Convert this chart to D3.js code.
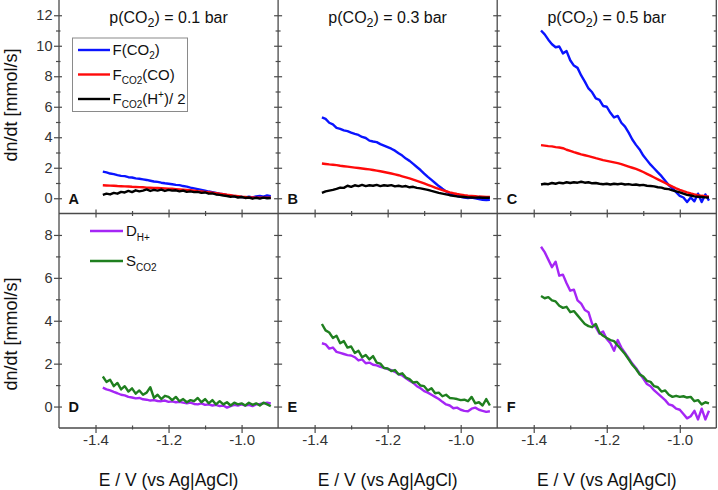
<!DOCTYPE html>
<html><head><meta charset="utf-8">
<script src="https://cdn.jsdelivr.net/npm/d3@7"></script>
<style>
body{margin:0;background:#fff}
svg{display:block}
text{font-family:"Liberation Sans",Arial,Helvetica,sans-serif}
</style>
</head><body>
<svg id="c" width="718" height="490"></svg>
<script>
// ---------------- DATA ----------------
const E = [-1.38,-1.37,-1.36,-1.35,-1.34,-1.33,-1.32,-1.31,-1.30,-1.29,
-1.28,-1.27,-1.26,-1.25,-1.24,-1.23,-1.22,-1.21,-1.20,-1.19,
-1.18,-1.17,-1.16,-1.15,-1.14,-1.13,-1.12,-1.11,-1.10,-1.09,
-1.08,-1.07,-1.06,-1.05,-1.04,-1.03,-1.02,-1.01,-1.00,-0.99,
-0.98,-0.97,-0.96,-0.95,-0.94,-0.93,-0.92];

const pressures = ["0.1", "0.3", "0.5"];
const panelLetters = [["A","B","C"],["D","E","F"]];
const xTicks = [-1.4, -1.2, -1.0];
const xMinorTicks = [-1.3, -1.1];
const xTickLabels = ["-1.4", "-1.2", "-1.0"];
const yTopTicks = [0, 2, 4, 6, 8, 10, 12];
const yTopMinor = [1, 3, 5, 7, 9, 11];
const yBotTicks = [0, 2, 4, 6, 8];
const yBotMinor = [1, 3, 5, 7];

// p = 0.1 bar
const F_CO2_01 = [1.75,1.70,1.62,1.58,1.52,1.47,1.45,1.38,1.36,1.30,
1.28,1.24,1.20,1.15,1.10,1.07,1.02,0.98,0.95,0.92,
0.88,0.86,0.80,0.76,0.70,0.65,0.60,0.55,0.50,0.44,
0.40,0.35,0.30,0.26,0.20,0.17,0.13,0.10,0.08,0.06,
0.10,0.05,0.12,0.15,0.10,0.18,0.14];
const F_CO_01 = [0.85,0.84,0.83,0.82,0.80,0.79,0.78,0.77,0.75,0.74,
0.73,0.72,0.70,0.69,0.68,0.67,0.66,0.65,0.63,0.62,
0.60,0.58,0.56,0.54,0.52,0.50,0.47,0.45,0.42,0.39,
0.36,0.33,0.30,0.27,0.23,0.20,0.16,0.13,0.10,0.08,
0.06,0.05,0.04,0.04,0.03,0.03,0.03];
const F_H_01 = [0.22,0.30,0.25,0.35,0.30,0.42,0.38,0.48,0.40,0.52,
0.45,0.50,0.58,0.48,0.55,0.50,0.57,0.48,0.55,0.50,
0.52,0.45,0.50,0.42,0.45,0.40,0.42,0.35,0.38,0.30,
0.32,0.25,0.22,0.18,0.15,0.10,0.12,0.05,0.08,0.02,
0.05,-0.03,0.03,-0.02,0.04,0.00,0.02];
const D_H_01 = [0.88,0.80,0.75,0.68,0.62,0.55,0.52,0.45,0.42,0.38,
0.40,0.34,0.32,0.28,0.30,0.26,0.25,0.28,0.22,0.24,
0.20,0.22,0.18,0.15,0.18,0.12,0.10,0.15,0.08,0.10,
0.05,0.08,0.02,0.05,-0.05,0.02,0.08,0.05,0.10,0.05,
0.08,0.02,0.10,0.12,0.15,0.18,0.15];
const S_CO2_01 = [1.40,1.15,1.25,0.95,1.10,0.80,0.95,0.70,0.85,0.60,
0.75,0.55,0.65,0.90,0.40,0.55,0.35,0.50,0.45,0.30,
0.45,0.25,0.35,0.20,0.30,0.25,0.40,0.20,0.35,0.15,
0.30,0.10,0.25,0.10,0.20,0.05,0.18,0.10,0.15,0.05,
0.18,0.08,0.15,0.05,0.18,0.10,0.02];

// p = 0.3 bar
const F_CO2_03 = [5.30,5.20,4.95,4.85,4.62,4.55,4.45,4.40,4.30,4.22,
4.15,4.02,3.95,3.78,3.72,3.68,3.55,3.45,3.35,3.25,
3.12,2.95,2.80,2.60,2.45,2.25,2.05,1.85,1.62,1.40,
1.20,1.00,0.80,0.62,0.45,0.32,0.22,0.15,0.10,0.05,
0.02,0.05,0.00,-0.05,-0.10,-0.12,-0.10];
const F_CO_03 = [2.28,2.25,2.22,2.20,2.17,2.13,2.10,2.07,2.04,2.01,
1.98,1.95,1.92,1.89,1.85,1.81,1.77,1.72,1.67,1.62,
1.57,1.51,1.44,1.37,1.30,1.22,1.14,1.06,0.97,0.88,
0.79,0.70,0.61,0.53,0.46,0.39,0.33,0.28,0.24,0.20,
0.17,0.15,0.13,0.11,0.10,0.09,0.08];
const F_H_03 = [0.35,0.45,0.50,0.55,0.62,0.70,0.68,0.82,0.75,0.85,
0.80,0.88,0.80,0.85,0.82,0.88,0.80,0.85,0.82,0.86,
0.78,0.82,0.76,0.80,0.72,0.75,0.68,0.65,0.60,0.55,
0.48,0.42,0.35,0.30,0.25,0.20,0.16,0.12,0.10,0.08,
0.06,0.05,0.04,0.05,0.03,0.04,0.03];
const D_H_03 = [2.95,2.90,2.70,2.75,2.55,2.50,2.45,2.40,2.38,2.30,
2.15,2.20,2.02,2.05,1.95,1.92,1.85,1.80,1.75,1.70,
1.62,1.50,1.45,1.32,1.20,1.10,0.95,0.85,0.72,0.65,
0.55,0.45,0.35,0.22,0.10,0.05,-0.08,-0.05,-0.15,-0.20,
-0.22,-0.10,-0.05,-0.15,-0.20,-0.25,-0.22];
const S_CO2_03 = [3.85,3.55,3.45,3.20,3.30,2.95,3.05,2.75,2.80,2.50,
2.60,2.30,2.40,2.20,2.35,2.05,2.00,1.80,1.78,1.65,
1.70,1.50,1.55,1.35,1.28,1.12,1.15,0.98,0.95,0.75,
0.85,0.62,0.65,0.48,0.55,0.40,0.38,0.35,0.30,0.32,
0.25,0.45,0.15,0.20,0.05,0.35,0.05];

// p = 0.5 bar
const F_CO2_05 = [11.00,10.75,10.40,10.10,9.90,9.95,9.50,9.65,9.05,8.70,
8.55,8.05,7.65,7.20,6.95,6.55,6.45,6.05,6.00,5.60,
5.30,5.40,4.95,4.70,4.30,3.85,3.50,3.20,2.80,2.50,
2.20,1.95,1.70,1.45,1.15,0.85,0.65,0.40,0.15,0.05,
-0.25,0.05,-0.20,0.30,-0.25,0.25,-0.15];
const F_CO_05 = [3.48,3.45,3.42,3.40,3.35,3.33,3.28,3.18,3.10,3.02,
2.95,2.88,2.82,2.76,2.70,2.63,2.57,2.50,2.45,2.40,
2.35,2.30,2.24,2.16,2.08,2.00,1.92,1.83,1.72,1.60,
1.48,1.36,1.24,1.12,1.00,0.88,0.76,0.65,0.55,0.46,
0.38,0.31,0.25,0.20,0.16,0.13,0.11];
const F_H_05 = [0.90,0.95,0.92,1.00,0.95,1.02,0.98,1.05,1.00,1.05,
1.02,1.08,1.02,1.05,0.98,1.00,0.95,0.92,0.95,0.90,
0.95,0.92,0.96,0.90,0.93,0.88,0.90,0.85,0.88,0.82,
0.80,0.78,0.72,0.70,0.62,0.60,0.52,0.45,0.38,0.30,
0.22,0.18,0.12,0.10,0.08,0.06,0.05];
const D_H_05 = [7.45,7.20,6.85,6.50,6.75,6.10,6.15,5.75,5.40,5.45,
4.95,4.80,4.50,4.40,3.85,3.70,3.40,3.50,3.15,2.95,
2.60,3.10,2.75,2.50,2.25,2.00,1.80,1.55,1.30,1.05,
0.95,0.75,0.60,0.45,0.30,0.10,0.05,-0.10,-0.15,-0.35,
-0.55,-0.45,-0.20,-0.60,-0.10,-0.60,-0.20];
const S_CO2_05 = [5.15,5.05,5.10,4.95,4.90,4.70,4.60,4.65,4.40,4.45,
4.25,4.05,3.85,3.75,3.70,3.85,3.45,3.30,3.20,3.10,
3.05,2.85,2.65,2.45,2.20,1.95,1.75,1.50,1.40,1.20,
1.15,0.95,0.90,0.70,0.75,0.55,0.45,0.50,0.45,0.48,
0.42,0.45,0.25,0.30,0.10,0.20,0.15];

// ---------------- LAYOUT ----------------
const COL = {blue:"#0a14ff", red:"#ff0a0a", black:"#000000", purple:"#a526f5", green:"#1f7f1f"};
const AX = "#4a4a4a";
const LEFT = 59, PW = 219.1;
const rows = [
  {top: 0, bottom: 213.5, dom: [-1, 13], ticks: yTopTicks, minor: yTopMinor},
  {top: 213.5, bottom: 428, dom: [-1, 9], ticks: yBotTicks, minor: yBotMinor}
];
const topSeries = [[F_CO2_01, F_CO_01, F_H_01],[F_CO2_03, F_CO_03, F_H_03],[F_CO2_05, F_CO_05, F_H_05]];
const botSeries = [[D_H_01, S_CO2_01],[D_H_03, S_CO2_03],[D_H_05, S_CO2_05]];
const topColors = [COL.blue, COL.red, COL.black];
const botColors = [COL.purple, COL.green];

const svg = d3.select("#c");
svg.append("rect").attr("width",718).attr("height",490).attr("fill","#fff");

const xScales = [0,1,2].map(i => d3.scaleLinear().domain([-1.5,-0.9]).range([LEFT + i*PW, LEFT + (i+1)*PW]));
const yScales = rows.map(r => d3.scaleLinear().domain(r.dom).range([r.bottom, r.top]));

// data lines
const gLines = svg.append("g");
[0,1,2].forEach(c => {
  const line = d3.line().x((d,i) => xScales[c](E[i]));
  topSeries[c].forEach((s, k) => {
    gLines.append("path").datum(s)
      .attr("d", line.y(d => yScales[0](d)))
      .attr("fill","none").attr("stroke", topColors[k]).attr("stroke-width", 2.4)
      .attr("stroke-linejoin","round");
  });
  botSeries[c].forEach((s, k) => {
    gLines.append("path").datum(s)
      .attr("d", line.y(d => yScales[1](d)))
      .attr("fill","none").attr("stroke", botColors[k]).attr("stroke-width", 2.4)
      .attr("stroke-linejoin","round");
  });
});

// frames
const gF = svg.append("g").attr("stroke", AX).attr("stroke-width", 1.3);
[0,1,2,3].forEach(i => {
  const x = LEFT + i*PW;
  gF.append("line").attr("x1",x).attr("x2",x).attr("y1",-2).attr("y2",428);
});
[213.5, 428].forEach(y => gF.append("line").attr("x1",LEFT).attr("x2",LEFT+3*PW).attr("y1",y).attr("y2",y));

// y ticks via axes (crossing ticks)
function yTicksAt(x, r, values, inLen, outLen, labels) {
  const ax = d3.axisLeft(yScales[r]).tickValues(values).tickSize(0).tickPadding(7);
  const g = svg.append("g").attr("transform", `translate(${x},0)`).call(ax);
  g.select(".domain").remove();
  g.selectAll(".tick line").attr("x1", inLen).attr("x2", -outLen).attr("stroke", AX).attr("stroke-width", 1.2);
  if (!labels) g.selectAll(".tick text").remove();
  else g.selectAll(".tick text").attr("font-size", 14.5).attr("fill", "#333").attr("font-family", null).attr("x", -6.5);
  return g;
}
function xTicksAt(r, c, values, upLen, downLen, labels) {
  const ax = d3.axisBottom(xScales[c]).tickValues(values).tickSize(0);
  const y = rows[r].bottom;
  const g = svg.append("g").attr("transform", `translate(0,${y})`).call(ax);
  g.select(".domain").remove();
  g.selectAll(".tick line").attr("y1", -upLen).attr("y2", downLen).attr("stroke", AX).attr("stroke-width", 1.2);
  if (!labels) g.selectAll(".tick text").remove();
  else g.selectAll(".tick text").text((d,i) => labels[i]).attr("font-size", 15).attr("fill", "#333")
        .attr("font-family", null).attr("y", 6.5).attr("dy", "0.71em");
}
[0,1].forEach(r => {
  yTicksAt(LEFT, r, rows[r].ticks, 3, 5, true);
  yTicksAt(LEFT, r, rows[r].minor, 1.5, 3, false);
  [1,2].forEach(i => {
    yTicksAt(LEFT + i*PW, r, rows[r].ticks, 4, 4, false);
    yTicksAt(LEFT + i*PW, r, rows[r].minor, 2.5, 2.5, false);
  });
  yTicksAt(LEFT + 3*PW, r, rows[r].ticks, 0, 4, false);
  yTicksAt(LEFT + 3*PW, r, rows[r].minor, 0, 2.5, false);
  [0,1,2].forEach(c => {
    if (r === 0) {
      xTicksAt(0, c, xTicks, 4, 4, null);
      xTicksAt(0, c, xMinorTicks, 2.5, 2.5, null);
    } else {
      xTicksAt(1, c, xTicks, 3, 5, xTickLabels);
      xTicksAt(1, c, xMinorTicks, 2.5, 1.5, null);
    }
  });
});

// panel letters
[0,1].forEach(r => [0,1,2].forEach(c => {
  svg.append("text").attr("x", LEFT + c*PW + 9.5).attr("y", yScales[r](0) + 5.3)
    .attr("font-size", 14.5).attr("font-weight", "bold").attr("fill", "#111").text(panelLetters[r][c]);
}));

// titles
pressures.forEach((p, c) => {
  const t = svg.append("text").attr("x", LEFT + c*PW + PW/2).attr("y", 23).attr("text-anchor","middle")
    .attr("font-size", 16).attr("fill", "#111");
  t.append("tspan").text("p(CO");
  t.append("tspan").attr("font-size", 12.5).attr("dy", 4).text("2");
  t.append("tspan").attr("dy", -4).text(`) = ${p} bar`);
});

// axis titles
[0,1].forEach(r => {
  const cy = r === 0 ? 105 : 334;
  svg.append("text").attr("transform", `translate(16.5,${cy}) rotate(-90)`).attr("text-anchor","middle")
    .attr("font-size", 18).attr("fill", "#111").text("dn/dt [mmol/s]");
});
[0,1,2].forEach(c => {
  svg.append("text").attr("x", LEFT + c*PW + PW/2).attr("y", 486).attr("text-anchor","middle")
    .attr("font-size", 17.5).attr("fill", "#111").text("E / V (vs Ag|AgCl)");
});

// legend top
const lg = svg.append("g");
lg.append("rect").attr("x", 72.5).attr("y", 38).attr("width", 115).attr("height", 73.5)
  .attr("fill", "#fff").attr("stroke", "#8a8a8a").attr("stroke-width", 1);
const legRowsY = [50, 74.5, 99];
const legTop = [
  [["F(CO", 0, 15], ["2", 4, 10], [")", -4, 15]],
  [["F", 0, 15], ["CO2", 4, 10], ["(CO)", -4, 15]],
  [["F", 0, 15], ["CO2", 4, 10], ["(H", -4, 15], ["+", -6, 10], [")/ 2", 6, 15]]
];
legTop.forEach((parts, k) => {
  const y = legRowsY[k];
  lg.append("line").attr("x1", 78).attr("x2", 110).attr("y1", y).attr("y2", y)
    .attr("stroke", topColors[k]).attr("stroke-width", 2.4);
  const t = lg.append("text").attr("x", 112.5).attr("y", y + 5.3).attr("fill", "#111").attr("font-size", 15);
  parts.forEach(([s, dy, fs]) => t.append("tspan").attr("dy", dy).attr("font-size", fs).text(s));
});
// legend bottom
const legBotY = [231, 261];
const legBot = [
  [["D", 0, 15], ["H+", 5, 10]],
  [["S", 0, 15], ["CO2", 5, 10]]
];
legBot.forEach((parts, k) => {
  const y = legBotY[k];
  lg.append("line").attr("x1", 90).attr("x2", 123).attr("y1", y).attr("y2", y)
    .attr("stroke", botColors[k]).attr("stroke-width", 2.4);
  const t = lg.append("text").attr("x", 126).attr("y", y + 5.3).attr("fill", "#111").attr("font-size", 15);
  parts.forEach(([s, dy, fs]) => t.append("tspan").attr("dy", dy).attr("font-size", fs).text(s));
});
</script>
</body></html>
